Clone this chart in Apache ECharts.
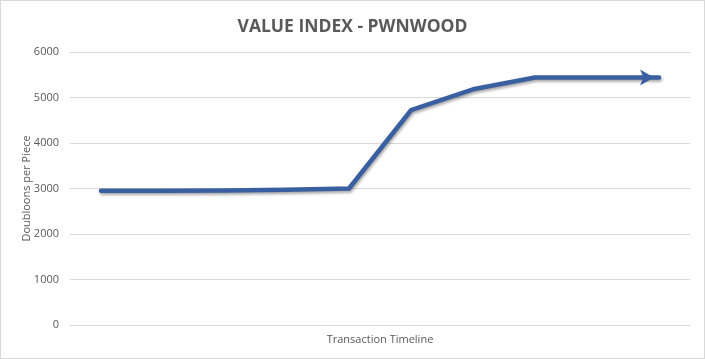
<!DOCTYPE html>
<html>
<head>
<meta charset="utf-8">
<script src="https://cdn.jsdelivr.net/npm/echarts@6/dist/echarts.min.js"></script>
<style>
html,body{margin:0;padding:0;background:#fff;}
#c{width:705px;height:359px;box-sizing:border-box;border:1px solid #d9d9d9;}
</style>
</head>
<body>
<div id="c"></div>
<script>
const titleText = 'VALUE INDEX - PWNWOOD';
const xAxisName = 'Transaction Timeline';
const yAxisName = 'Doubloons per Piece';
const categories = ['1','2','3','4','5','6','7','8','9','10'];
const values = [2950, 2950, 2955, 2975, 3000, 4720, 5180, 5440, 5440, 5440];
const yTicks = [0, 1000, 2000, 3000, 4000, 5000, 6000];

const lineColor = '#3a5fa0';
const seriesData = values.map((v, i) => i === values.length - 1
  ? {value: v, symbol: 'arrow', symbolSize: [12, 14], symbolRotate: -90, symbolOffset: [-5, 0]}
  : {value: v, symbol: 'none'});

const chart = echarts.init(document.getElementById('c'));
chart.setOption({
  animation: false,
  title: {
    text: titleText, left: 'center', top: 12,
    textStyle: {fontFamily: 'Open Sans', fontSize: 17.5, fontWeight: 'bold', color: '#595959'}
  },
  grid: {left: 69, right: 14, top: 51, bottom: 33},
  xAxis: {
    type: 'category', data: categories, boundaryGap: true,
    name: xAxisName, nameLocation: 'middle', nameGap: 9,
    nameTextStyle: {fontFamily: 'Open Sans', fontSize: 11, color: '#595959'},
    axisLine: {lineStyle: {color: '#d9d9d9'}},
    axisTick: {show: false}, axisLabel: {show: false}
  },
  yAxis: {
    type: 'value', min: yTicks[0], max: yTicks[yTicks.length - 1], interval: 1000,
    name: yAxisName, nameLocation: 'middle', nameGap: 38, nameMoveOverlap: false,
    nameTextStyle: {fontFamily: 'Open Sans', fontSize: 11, color: '#595959'},
    axisLine: {show: false}, axisTick: {show: false},
    axisLabel: {fontFamily: 'Open Sans', fontSize: 11, color: '#595959', margin: 11,
      formatter: v => String(v)},
    splitLine: {lineStyle: {color: '#d9d9d9'}}
  },
  series: [{
    type: 'line', data: seriesData, showSymbol: true,
    itemStyle: {color: lineColor},
    lineStyle: {color: lineColor, width: 4.5, cap: 'round', join: 'round',
      shadowColor: 'rgba(0,0,0,0.35)', shadowBlur: 3, shadowOffsetX: 1, shadowOffsetY: 2}
  }]
});
</script>
</body>
</html>
